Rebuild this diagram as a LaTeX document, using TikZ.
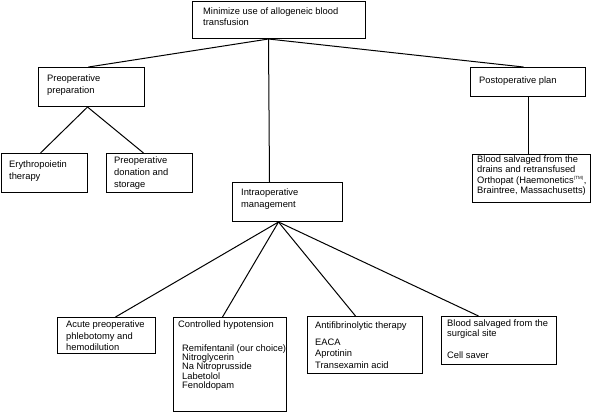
\documentclass[tikz,border=0pt]{standalone}
\usepackage{fontspec}
\setmainfont{Liberation Sans}
\usetikzlibrary{calc}
\tikzset{
  box/.style={draw, line width=1pt, inner sep=0pt, anchor=north west},
  txt/.style={inner sep=0pt, anchor=north west, align=left, font=\fontsize{9.35}{11.6}\selectfont},
  tight/.style={inner sep=0pt, anchor=north west, align=left, font=\fontsize{9.35}{9.2}\selectfont},
  mid/.style={inner sep=0pt, anchor=north west, align=left, font=\fontsize{9.35}{10.4}\selectfont},
  link/.style={line width=1pt}
}
\begin{document}
\begin{tikzpicture}[x=1pt,y=-1pt]
\useasboundingbox (0,0) rectangle (595,413);
% boxes
\node[box, minimum width=173pt, minimum height=37pt] (top) at (192,1) {};
\node[box, minimum width=106pt, minimum height=39pt] (prep) at (38,67) {};
\node[box, minimum width=86pt, minimum height=39pt] (ery) at (1,153) {};
\node[box, minimum width=86pt, minimum height=39pt] (don) at (106,153) {};
\node[box, minimum width=115pt, minimum height=29pt] (post) at (470,67) {};
\node[box, minimum width=118pt, minimum height=48pt] (drains) at (472,154) {};
\node[box, minimum width=110pt, minimum height=39pt] (intra) at (232,182) {};
\node[box, minimum width=98pt, minimum height=36pt] (acute) at (57,317) {};
\node[box, minimum width=113pt, minimum height=94pt] (ctrl) at (173,317) {};
\node[box, minimum width=115pt, minimum height=57pt] (anti) at (307,316) {};
\node[box, minimum width=115pt, minimum height=48pt] (salv) at (441,316) {};
% texts
\node[txt] (ttop) at (203,7.2) {Minimize use of allogeneic blood\\transfusion};
\node[txt] (tprep) at (47,74.5) {Preoperative\\preparation};
\node[txt] (tery) at (9,160.5) {Erythropoietin\\therapy};
\node[txt] (tdon) at (114,157) {Preoperative\\donation and\\storage};
\node[txt] (tpost) at (479,76.5) {Postoperative plan};
\node[mid] (tdrains) at (477,155.5) {Blood salvaged from the\\drains and retransfused\\Orthopat (Haemonetics\textsuperscript{\fontsize{4.5}{5}\selectfont(TM)},\\Braintree, Massachusetts)};
\node[txt] (tintra) at (241,188.5) {Intraoperative\\management};
\node[txt] (tacute) at (66,320.5) {Acute preoperative\\phlebotomy and\\hemodilution};
\node[txt] (tctrl) at (178,320.5) {Controlled hypotension};
\node[tight] (tctrll) at (182,344.5) {Remifentanil (our choice)\\Nitroglycerin\\Na Nitroprusside\\Labetolol\\Fenoldopam};
\node[txt] (tanti) at (315,321.5) {Antifibrinolytic therapy};
\node[txt] (tantil) at (315,338.5) {EACA\\Aprotinin\\Transexamin acid};
\node[mid] (tsalv) at (447,319.5) {Blood salvaged from the\\surgical site};
\node[txt] (tsalvl) at (447,351.5) {Cell saver};
% connectors
\draw[link] ([xshift=-10.5pt]top.south) -- ([xshift=-3pt]prep.north);
\draw[link] ([xshift=-10.5pt]top.south) -- ([xshift=-18pt]intra.north);
\draw[link] ([xshift=-10.5pt]top.south) -- ([xshift=-4.5pt]post.north);
\draw[link] ([xshift=-4pt]prep.south) -- ([xshift=-4pt]ery.north);
\draw[link] ([xshift=-4pt]prep.south) -- ([xshift=-6pt]don.north);
\draw[link] ([xshift=0.5pt]post.south) -- ([xshift=-3pt]drains.north);
\draw[link] ([xshift=-9pt]intra.south) -- ([xshift=9pt]acute.north);
\draw[link] ([xshift=-9pt]intra.south) -- ([xshift=-7.5pt]ctrl.north);
\draw[link] ([xshift=-9pt]intra.south) -- ([xshift=-9.5pt]anti.north);
\draw[link] ([xshift=-9pt]intra.south) -- ([xshift=-20.5pt]salv.north);
\end{tikzpicture}
\end{document}
